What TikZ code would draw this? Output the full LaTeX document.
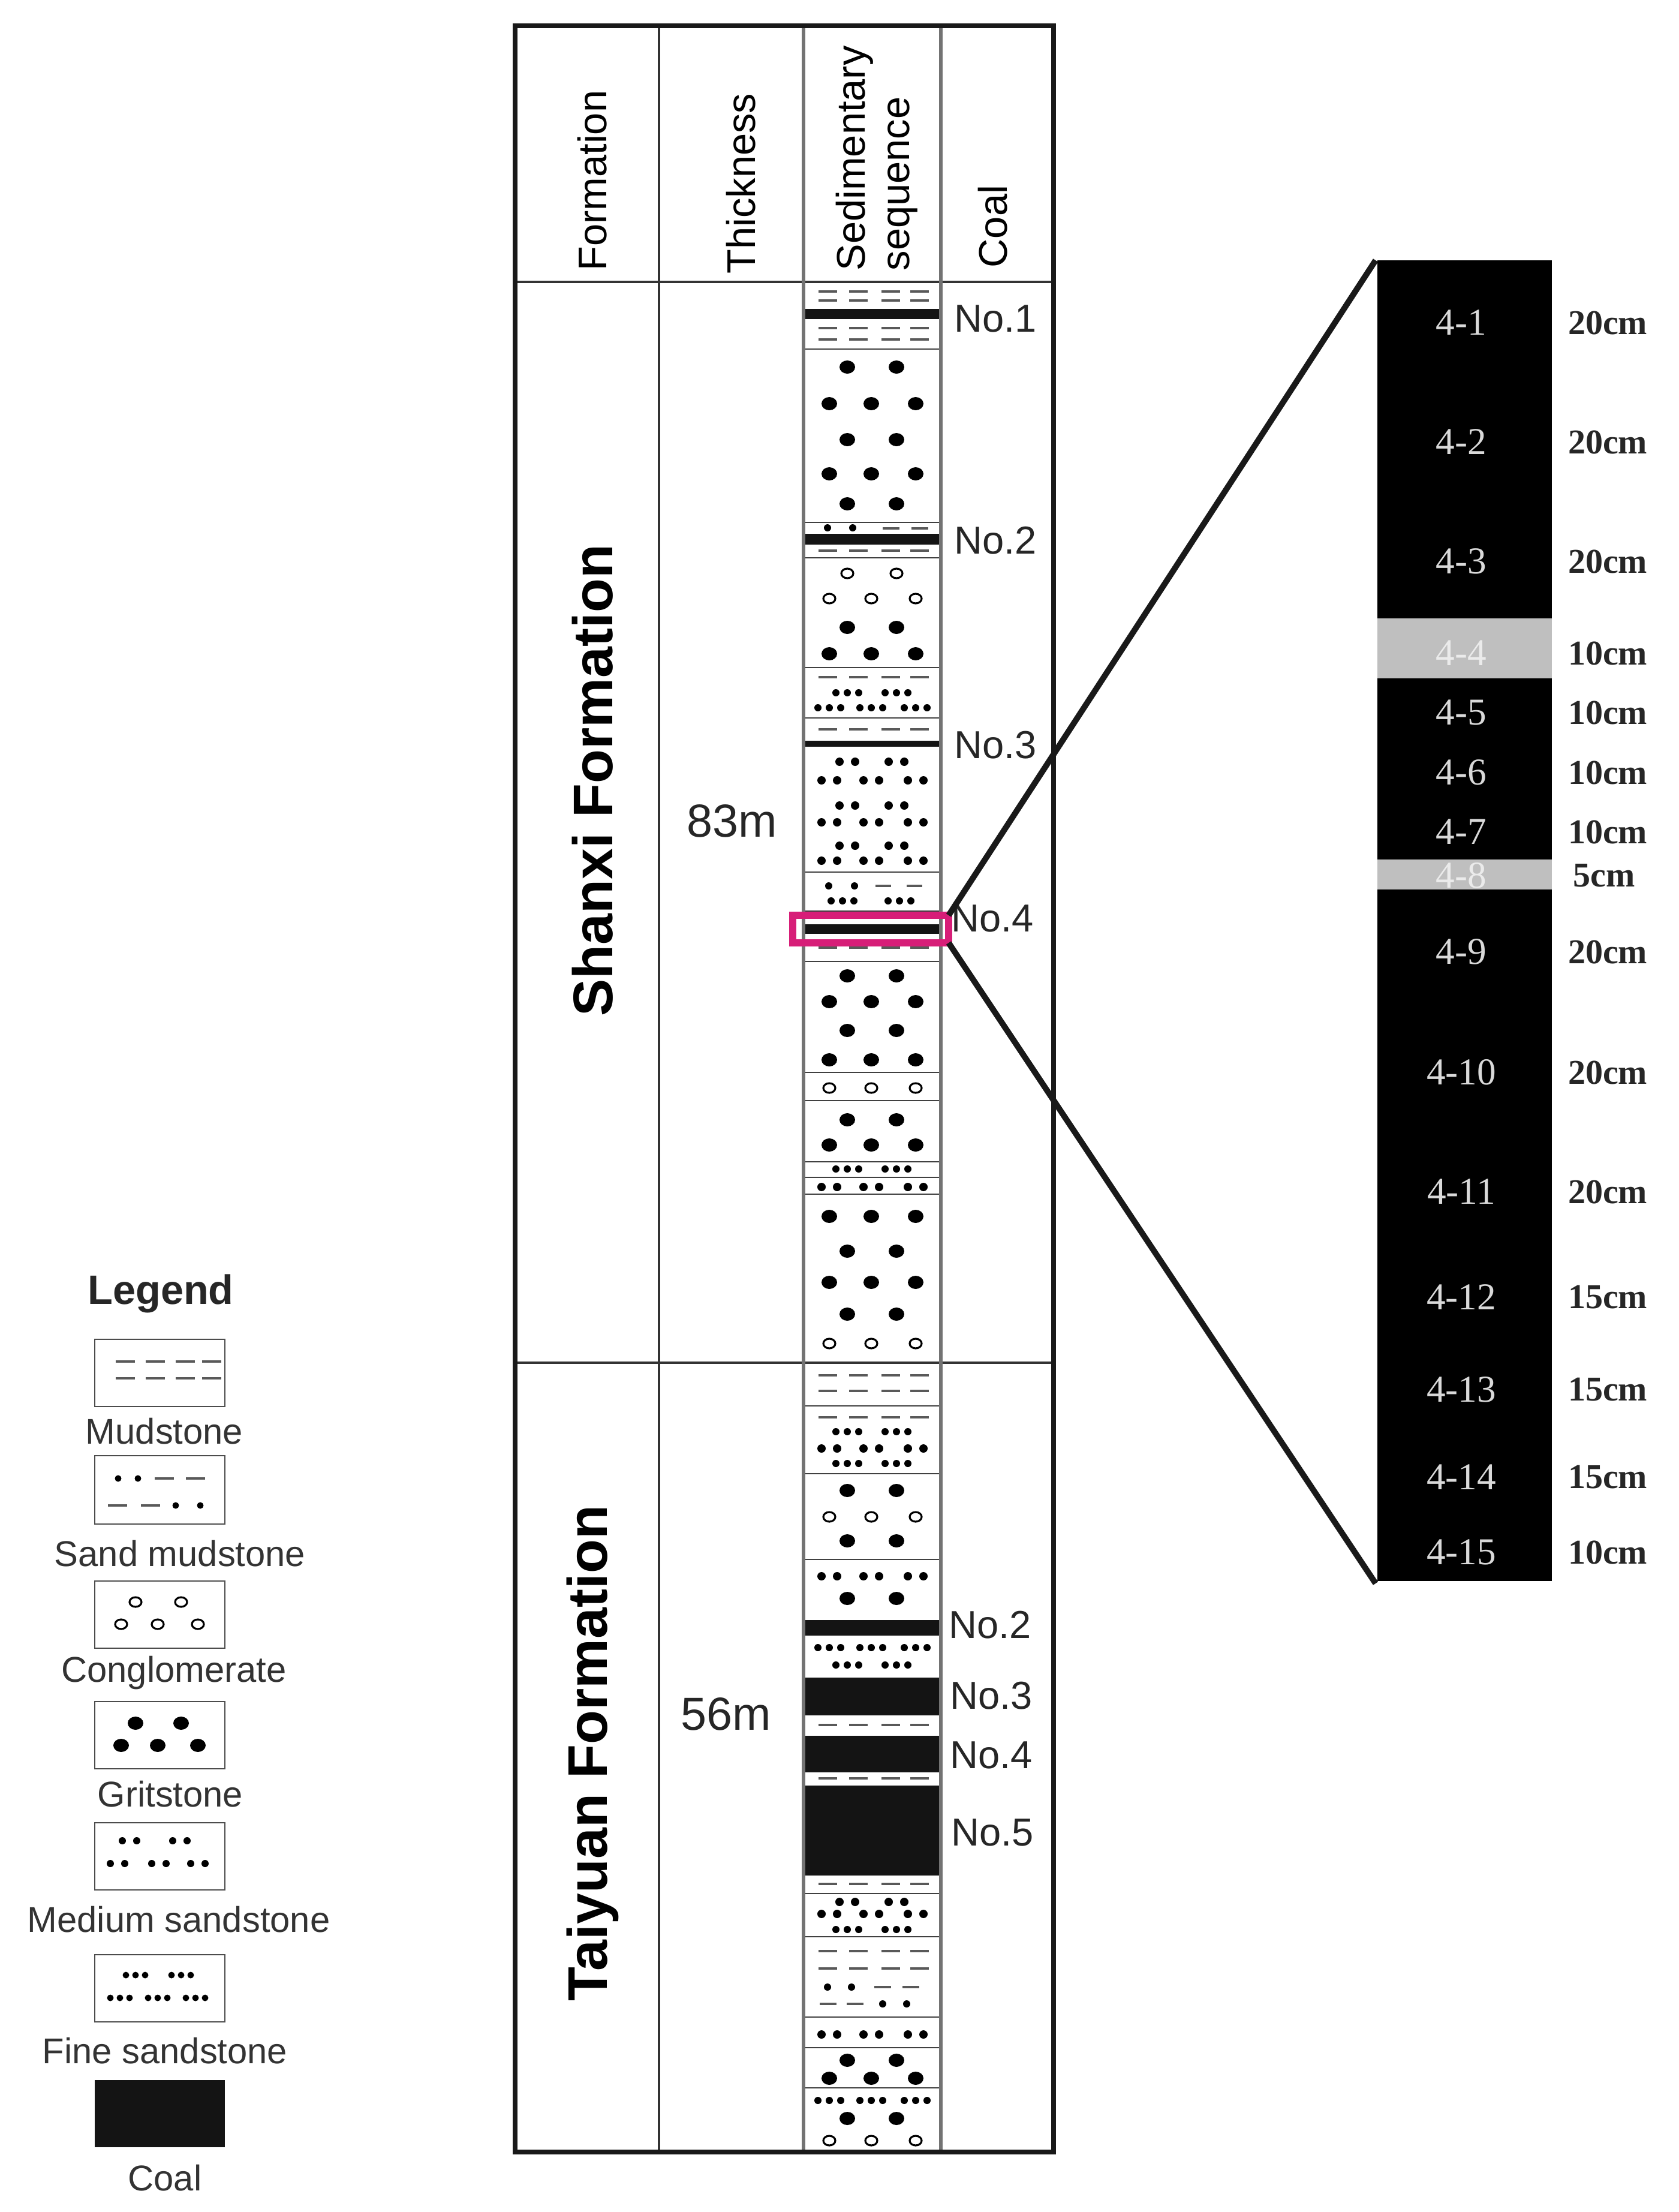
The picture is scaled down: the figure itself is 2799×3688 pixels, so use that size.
\documentclass[tikz,border=0pt]{standalone}
\usepackage{fontspec}
\setmainfont{Liberation Sans}
\newfontfamily\serfam{Liberation Serif}
\newcommand\grthree[1]{\foreach \xx in {1383,1453,1527}{\fill (\xx,#1) ellipse [x radius=13, y radius=11];}}
\newcommand\grtwo[1]{\foreach \xx in {1413,1495}{\fill (\xx,#1) ellipse [x radius=13, y radius=11];}}
\newcommand\cgthree[1]{\foreach \xx in {1383,1453,1527}{\draw[line width=0.9pt] (\xx,#1) ellipse [x radius=10, y radius=8];}}
\newcommand\cgtwo[1]{\foreach \xx in {1413,1495}{\draw[line width=0.9pt] (\xx,#1) ellipse [x radius=10, y radius=8];}}
\newcommand\mdthree[1]{\foreach \xx in {1383,1453,1527}{\fill (\xx-13,#1) circle (7); \fill (\xx+13,#1) circle (7);}}
\newcommand\mdtwo[1]{\foreach \xx in {1413,1495}{\fill (\xx-13,#1) circle (7); \fill (\xx+13,#1) circle (7);}}
\newcommand\fnthree[1]{\foreach \xx in {1383,1453,1527}{\fill (\xx-19,#1) circle (6); \fill (\xx,#1) circle (6); \fill (\xx+19,#1) circle (6);}}
\newcommand\fntwo[1]{\foreach \xx in {1413,1495}{\fill (\xx-19,#1) circle (6); \fill (\xx,#1) circle (6); \fill (\xx+19,#1) circle (6);}}
\newcommand\mudrow[1]{\foreach \xx in {1365,1416,1470,1518}{\draw[mudl] (\xx,#1) -- ++(31,0);}}
\newcommand\laybreak[1]{\draw[lay] (1343,#1) -- (1566,#1);}
\newcommand\coalband[2]{\fill[coalc] (1343,#1) rectangle (1566,#2);}
\begin{document}
\begin{tikzpicture}[x=0.1mm,y=-0.1mm,
  mudl/.style={draw=black!65,line width=1.0pt},
  lay/.style={draw=black!75,line width=0.7pt},
  coalc/.style={fill=black!92},
  hdr/.style={font=\fontsize{19}{19}\selectfont, rotate=90, anchor=west, inner sep=0pt},
  nolab/.style={font=\fontsize{18.5}{19}\selectfont, text=black!85},
  formlab/.style={font=\fontsize{26.5}{27}\selectfont\bfseries, rotate=90},
  thk/.style={font=\fontsize{22}{22}\selectfont, text=black!85},
  seglab/.style={font=\fontsize{18}{18}\serfam, text=black!15},
  cmlab/.style={font=\fontsize{16.5}{17}\serfam\bfseries, text=black!85},
  leglab/.style={font=\fontsize{17}{17}\selectfont, text=black!80},
  legbox/.style={draw=black!70,line width=0.8pt}]
\useasboundingbox (0,0) rectangle (2799,3688);
\fill[white] (0,0) rectangle (2799,3688);
% ---- column patterns, Shanxi
\mudrow{486}\mudrow{501}\coalband{515}{532}\mudrow{547}\mudrow{566}\laybreak{582}
\grtwo{612}\grthree{673}\grtwo{733}\grthree{790}\grtwo{840}\laybreak{871}
\fill (1380,880) circle (6); \fill (1422,880) circle (6);
\draw[mudl] (1472,881) -- ++(28,0); \draw[mudl] (1520,881) -- ++(28,0);
\coalband{890}{908}\mudrow{918}\laybreak{930}
\cgtwo{956}\cgthree{998}\grtwo{1046}\grthree{1090}\laybreak{1113}
\mudrow{1129}\fntwo{1155}\fnthree{1180}\laybreak{1197}
\mudrow{1216}\coalband{1235}{1245}
\mdtwo{1270}\mdthree{1301}\mdtwo{1343}\mdthree{1371}\mdtwo{1410}\mdthree{1435}\laybreak{1454}
\fill (1382,1477) circle (6); \fill (1425,1477) circle (6);
\draw[mudl] (1460,1477) -- ++(26,0); \draw[mudl] (1512,1477) -- ++(26,0);
\foreach \xx in {1405,1500}{\fill (\xx-19,1502) circle (6); \fill (\xx,1502) circle (6); \fill (\xx+19,1502) circle (6);}
\laybreak{1519}
\coalband{1541}{1557}\mudrow{1580}\laybreak{1603}
\grtwo{1627}\grthree{1670}\grtwo{1718}\grthree{1767}\laybreak{1788}
\cgthree{1814}\laybreak{1835}
\grtwo{1867}\grthree{1909}\laybreak{1937}
\fntwo{1949}\laybreak{1963}
\mdthree{1979}\laybreak{1991}
\grthree{2028}\grtwo{2086}\grthree{2138}\grtwo{2191}\cgthree{2240}
% ---- Taiyuan
\mudrow{2293}\mudrow{2319}\laybreak{2344}
\mudrow{2363}\fntwo{2387}\mdthree{2415}\fntwo{2440}\laybreak{2457}
\grtwo{2485}\cgthree{2529}\grtwo{2569}\laybreak{2600}
\mdthree{2628}\grtwo{2665}
\coalband{2701}{2727}
\fnthree{2747}\fntwo{2776}
\coalband{2797}{2860}\mudrow{2876}
\coalband{2894}{2955}\mudrow{2965}
\coalband{2977}{3127}\mudrow{3141}\laybreak{3157}
\mdtwo{3171}\mdthree{3191}\fntwo{3217}\laybreak{3229}
\mudrow{3253}\mudrow{3282}
\fill (1380,3313) circle (6); \fill (1420,3313) circle (6);
\draw[mudl] (1458,3313) -- ++(28,0); \draw[mudl] (1505,3313) -- ++(28,0);
\draw[mudl] (1367,3341) -- ++(28,0); \draw[mudl] (1412,3341) -- ++(28,0);
\fill (1472,3341) circle (6); \fill (1512,3341) circle (6);
\laybreak{3363}
\mdthree{3392}\laybreak{3414}
\grtwo{3435}\grthree{3465}\laybreak{3481}
\fnthree{3502}\grtwo{3532}\cgthree{3569}
% ---- table frame
\draw[black!80,line width=0.9pt] (859,470) -- (1757,470);
\draw[black!80,line width=0.9pt] (859,2272) -- (1757,2272);
\draw[black!80,line width=0.9pt] (1099,43) -- (1099,3588);
\draw[black!55,line width=1.5pt] (1340,43) -- (1340,3588);
\draw[black!55,line width=1.5pt] (1569,43) -- (1569,3588);
\draw[black!90,line width=2.1pt] (859,43) rectangle (1757,3588);
% ---- header
\node[hdr] (hForm) at (988,452) {Formation};
\node[hdr] (hThick) at (1236,457) {Thickness};
\node[hdr] (hSed1) at (1425,452) {Sedimentary};
\node[hdr] (hSed2) at (1505,452) {sequence};
\node[hdr] (hCoal) at (1656,447) {Coal};
% ---- formation labels
\node[formlab] (fShanxi) at (988,1301) {Shanxi Formation};
\node[formlab] (fTaiyuan) at (988,2923) {Taiyuan Formation};
\node[thk] (t83) at (1221,1369) {83m};
\node[thk] (t56) at (1211,2858) {56m};
% ---- coal labels
\node[nolab] (s1) at (1660,531) {No.1};
\node[nolab] (s2) at (1660,901) {No.2};
\node[nolab] (s3) at (1660,1242) {No.3};
\node[nolab] (s4) at (1655,1531) {No.4};
\node[nolab] (ty2) at (1651,2709) {No.2};
\node[nolab] (ty3) at (1653,2827) {No.3};
\node[nolab] (ty4) at (1653,2926) {No.4};
\node[nolab] (ty5) at (1655,3055) {No.5};
% ---- magenta box and zoom lines
\draw[draw={rgb,255:red,215;green,30;blue,120},line width=3.2pt] (1322,1526) rectangle (1582,1572);
\coordinate (boxTR) at (1582,1526);
\coordinate (boxBR) at (1582,1572);
\coordinate (panTL) at (2294,434);
\coordinate (panBL) at (2294,2640);
\draw[line width=2.8pt,black!90] (boxTR) -- (panTL);
\draw[line width=2.8pt,black!90] (boxBR) -- (panBL);
% ---- right panel
\fill[black] (2297,434) rectangle (2588,2636);
\fill[black!25] (2297,1031) rectangle (2588,1131);
\fill[black!25] (2297,1433) rectangle (2588,1483);
\foreach \nm/\yy/\cm in {1/538/20cm,2/737/20cm,3/936/20cm,5/1188/10cm,6/1288/10cm,7/1387/10cm,9/1587/20cm,10/1788/20cm,11/1987/20cm,12/2163/15cm,13/2317/15cm,14/2463/15cm,15/2588/10cm}{
  \node[seglab] (seg\nm) at (2437,\yy) {4-\nm};
  \node[cmlab] (cm\nm) at (2681,\yy) {\cm};
}
\node[seglab,text=black!8] (seg4) at (2437,1089) {4-4};
\node[cmlab] (cm4) at (2681,1089) {10cm};
\node[seglab,text=black!8] (seg8) at (2437,1460) {4-8};
\node[cmlab] (cm8) at (2675,1460) {5cm};
% ---- legend
\node[font=\fontsize{19.5}{20}\selectfont\bfseries, text=black!85] (legT) at (268,2157) {Legend};
\draw[legbox] (158,2233) rectangle (375,2345);
\foreach \xx in {193,243,293,337}{\draw[mudl] (\xx,2270) -- ++(32,0); \draw[mudl] (\xx,2298) -- ++(32,0);}
\node[leglab] (lMud) at (274,2386) {Mudstone};
\draw[legbox] (158,2427) rectangle (375,2541);
\fill (197,2465) circle (5.5); \fill (230,2465) circle (5.5);
\draw[mudl] (258,2465) -- ++(32,0); \draw[mudl] (310,2465) -- ++(32,0);
\draw[mudl] (180,2510) -- ++(32,0); \draw[mudl] (235,2510) -- ++(32,0);
\fill (293,2510) circle (5.5); \fill (334,2510) circle (5.5);
\node[leglab] (lSand) at (300,2590) {Sand mudstone};
\draw[legbox] (158,2636) rectangle (375,2748);
\foreach \xx/\yy in {226/2671,302/2671,202/2708,263/2708,330/2708}{\draw[line width=0.9pt] (\xx,\yy) ellipse [x radius=10, y radius=8];}
\node[leglab] (lCong) at (290,2789) {Conglomerate};
\draw[legbox] (158,2837) rectangle (375,2949);
\foreach \xx/\yy in {226/2873,302/2873,202/2910,263/2910,330/2910}{\fill (\xx,\yy) ellipse [x radius=13, y radius=11];}
\node[leglab] (lGrit) at (284,2991) {Gritstone};
\draw[legbox] (158,3039) rectangle (375,3151);
\foreach \xx/\yy in {216/3069,300/3069,196/3107,265/3107,330/3107}{\fill (\xx-12,\yy) circle (6); \fill (\xx+12,\yy) circle (6);}
\node[leglab] (lMed) at (298,3200) {Medium sandstone};
\draw[legbox] (158,3259) rectangle (375,3371);
\foreach \xx/\yy in {226/3293,302/3293,200/3331,263/3331,326/3331}{\fill (\xx-16,\yy) circle (5.5); \fill (\xx,\yy) circle (5.5); \fill (\xx+16,\yy) circle (5.5);}
\node[leglab] (lFine) at (275,3419) {Fine sandstone};
\fill[black!92] (158,3468) rectangle (375,3580);
\node[leglab] (lCoal) at (275,3631) {Coal};
\end{tikzpicture}
\end{document}
